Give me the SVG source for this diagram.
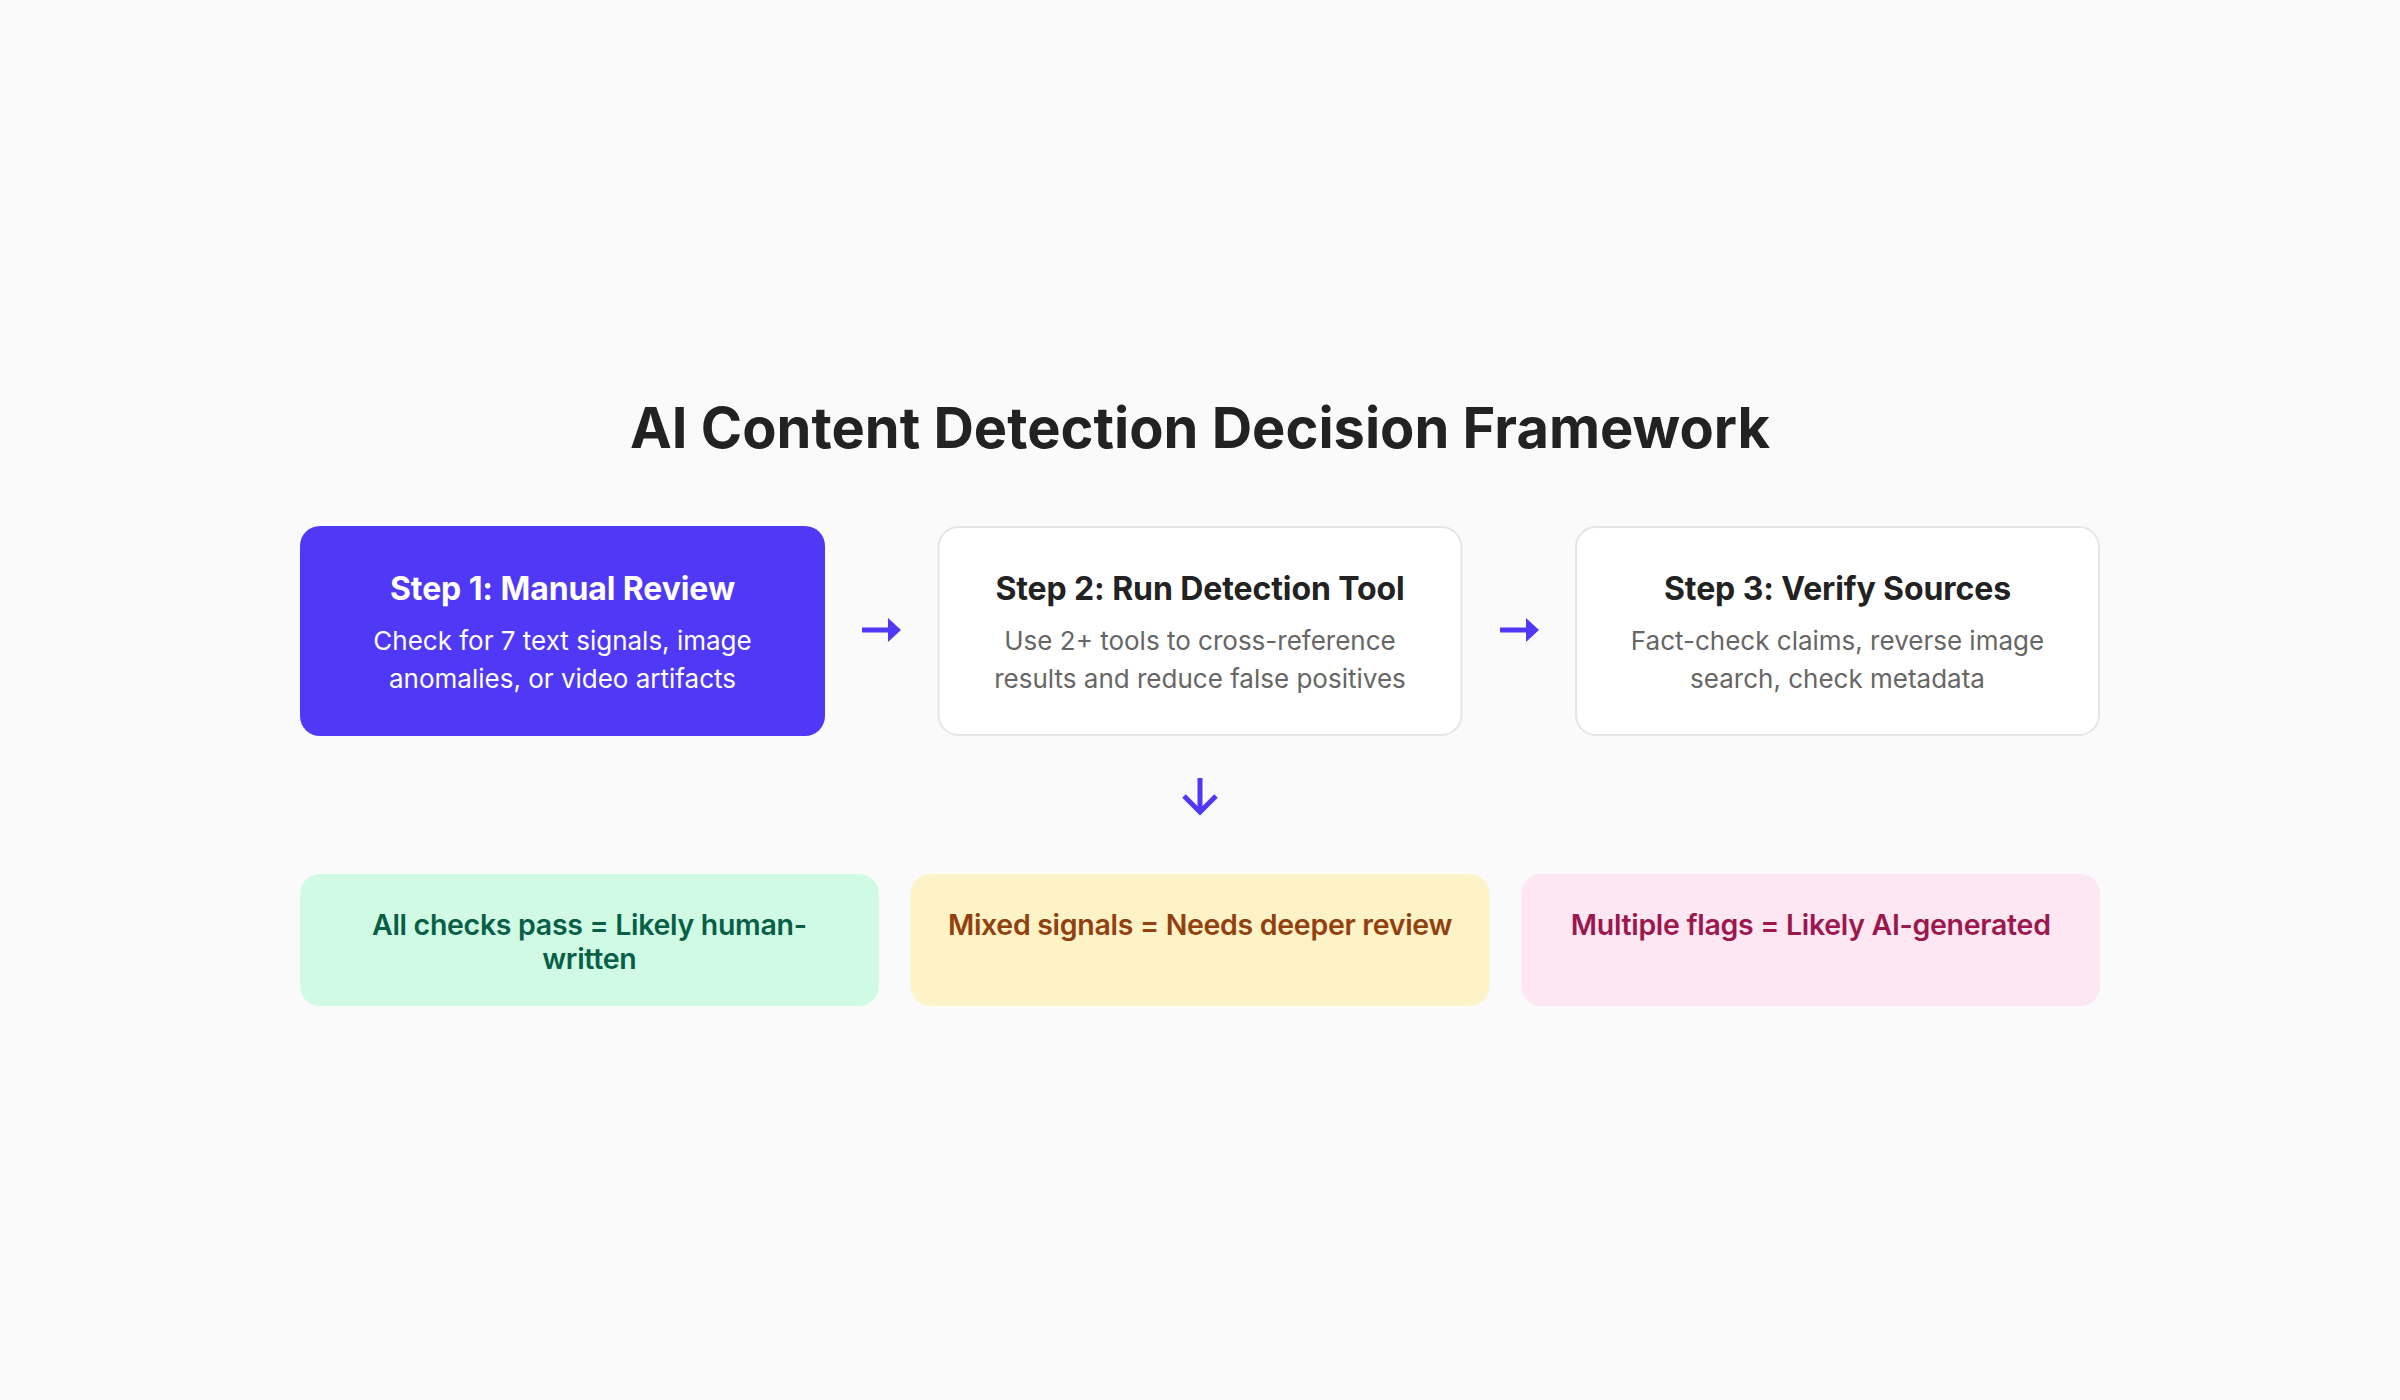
<svg xmlns="http://www.w3.org/2000/svg" width="2400" height="1400" viewBox="0 0 2400 1400">
<style>
  text { font-family: Inter, "Noto Sans", "Liberation Sans", sans-serif; text-anchor: middle; }
  .title { font-size: 56px; font-weight: 700; fill: #222222; letter-spacing: 0px; }
  .step { fill: #ffffff; stroke: #e5e5e5; stroke-width: 2; }
  .step-active { fill: #4f39f6; }
  .st { font-size: 32px; font-weight: 700; fill: #222222; letter-spacing: -0.1px; }
  .st-w { fill: #ffffff; }
  .sd { font-size: 26px; font-weight: 400; fill: #666666; }
  .sd-w { fill: #ffffff; }
  .out { font-size: 28.5px; font-weight: 600; letter-spacing: -0.3px; }
  .arrow { stroke: #4f39f6; stroke-width: 5; fill: none; }
  .head { fill: #4f39f6; }
</style>
<rect width="2400" height="1400" fill="#fafafa"/>
<text class="title" x="1200" y="448">AI Content Detection Decision Framework</text>

<g id="step1">
  <rect class="step-active" x="300" y="526" width="525" height="210" rx="20"/>
  <text class="st st-w" x="562.5" y="600">Step 1: Manual Review</text>
  <text class="sd sd-w" x="562.5" y="649.5">Check for 7 text signals, image</text>
  <text class="sd sd-w" x="562.5" y="687.5">anomalies, or video artifacts</text>
</g>
<g id="step2">
  <rect class="step" x="938.5" y="527" width="523" height="208" rx="20"/>
  <text class="st" x="1200" y="600">Step 2: Run Detection Tool</text>
  <text class="sd" x="1200" y="649.5">Use 2+ tools to cross-reference</text>
  <text class="sd" x="1200" y="687.5">results and reduce false positives</text>
</g>
<g id="step3">
  <rect class="step" x="1576" y="527" width="523" height="208" rx="20"/>
  <text class="st" x="1837.5" y="600">Step 3: Verify Sources</text>
  <text class="sd" x="1837.5" y="649.5">Fact-check claims, reverse image</text>
  <text class="sd" x="1837.5" y="687.5">search, check metadata</text>
</g>

<g id="connectors">
  <line class="arrow" x1="862" y1="630" x2="890" y2="630"/>
  <polygon class="head" points="888,618 901,630 888,642"/>
  <line class="arrow" x1="1500" y1="630" x2="1528" y2="630"/>
  <polygon class="head" points="1526,618 1539,630 1526,642"/>
  <line class="arrow" x1="1200" y1="778" x2="1200" y2="810" stroke-width="7"/>
  <polyline class="arrow" points="1184,796 1200,812 1216,796" stroke-width="7"/>
</g>

<g id="outcome-human">
  <rect x="300" y="874" width="578.7" height="132" rx="20" fill="#d1fae5"/>
  <text class="out" x="589.3" y="935" fill="#065f46">All checks pass = Likely human-</text>
  <text class="out" x="589.3" y="969" fill="#065f46">written</text>
</g>
<g id="outcome-mixed">
  <rect x="910.7" y="874" width="578.7" height="132" rx="20" fill="#fef3c7"/>
  <text class="out" x="1200" y="935" fill="#92400e">Mixed signals = Needs deeper review</text>
</g>
<g id="outcome-ai">
  <rect x="1521.3" y="874" width="578.7" height="132" rx="20" fill="#fce7f3"/>
  <text class="out" x="1810.7" y="935" fill="#9d174d">Multiple flags = Likely AI-generated</text>
</g>
</svg>
